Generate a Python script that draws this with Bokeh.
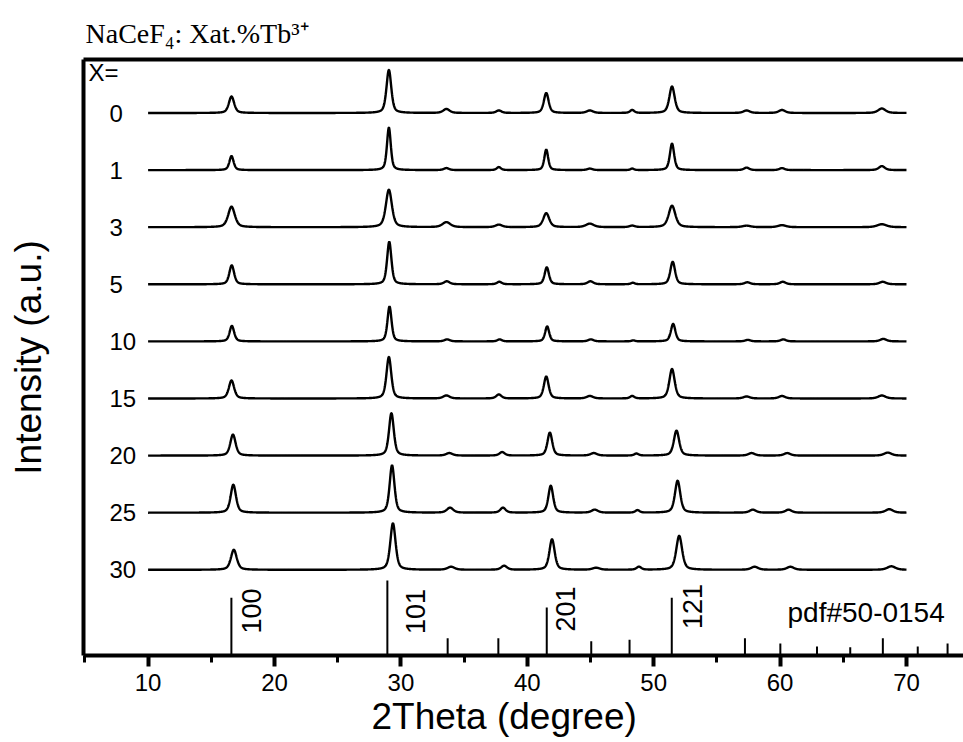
import numpy as np
from bokeh.plotting import figure
from bokeh.models import Range1d, FixedTicker, LinearAxis, Title, ColumnDataSource
from bokeh.embed import file_html
from bokeh.resources import INLINE
from bokeh.core.properties import value

# ---------------- data ----------------
SAMPLES = ["0", "1", "3", "5", "10", "15", "20", "25", "30"]   # X (at.% Tb3+)

# diffraction peaks of the x = 0 sample (2theta, degree) and their FWHM
PEAK_POS = [16.6, 29.05, 33.6, 37.75, 41.5, 44.95, 48.3, 51.45, 57.35, 60.15, 68.05]
PEAK_FWHM = [0.5, 0.45, 0.6, 0.5, 0.45, 0.6, 0.4, 0.5, 0.6, 0.6, 0.7]

# peak heights (a.u.) for each sample
H_0 = [16.5, 43.0, 4.0, 2.5, 20.0, 2.5, 3.0, 26.5, 2.5, 3.0, 4.5]
H_1 = [14.0, 42.5, 2.0, 3.0, 20.5, 1.5, 1.5, 26.5, 2.5, 2.0, 4.0]
H_3 = [20.5, 37.5, 5.0, 2.5, 14.0, 3.5, 1.5, 21.5, 1.5, 2.0, 3.0]
H_5 = [19.0, 42.5, 3.0, 2.5, 17.0, 3.0, 1.5, 22.5, 2.0, 2.5, 2.5]
H_10 = [15.5, 35.0, 2.0, 2.0, 15.0, 2.0, 1.0, 17.5, 1.5, 2.0, 2.5]
H_15 = [18.0, 41.5, 3.0, 4.0, 22.0, 2.5, 2.5, 29.5, 2.0, 2.5, 3.0]
H_20 = [21.0, 42.5, 2.5, 3.5, 23.0, 2.5, 2.0, 25.0, 2.5, 2.5, 3.0]
H_25 = [28.0, 47.5, 5.0, 5.0, 27.0, 3.0, 2.5, 32.0, 3.0, 3.0, 3.5]
H_30 = [20.0, 46.5, 3.0, 4.0, 30.5, 2.0, 3.0, 34.0, 3.0, 3.0, 3.5]
HEIGHTS = [H_0, H_1, H_3, H_5, H_10, H_15, H_20, H_25, H_30]

# peak shift of each sample (degree, at 2theta ~ 29) and width factor
PEAK_SHIFT = [0.0, 0.0, 0.0, 0.03, 0.05, 0.0, 0.2, 0.25, 0.32]
WIDTH_FACTOR = [1.0, 0.8, 1.25, 0.9, 0.85, 1.0, 1.0, 1.0, 1.1]

# standard card pdf#50-0154
PDF_POS = [16.59, 28.93, 33.70, 37.71, 41.54, 45.06, 48.09, 51.43,
           57.22, 60.02, 62.92, 65.55, 68.13, 70.89, 73.25]
PDF_INT = [77, 100, 23, 23, 64, 19, 21, 77, 23, 16, 12, 11, 23, 12, 16]
HKL_TEXT = ["100", "101", "201", "121"]
HKL_POS = [16.59, 28.93, 41.54, 51.43]

XTICKS = [10, 20, 30, 40, 50, 60, 70]
XMINOR = [5, 15, 25, 35, 45, 55, 65]

# ---------------- layout constants ----------------
X0, PXD = 4.89, 12.64          # left data value, px per degree
LEFT_PX, TOP_PX = 83, 59
FRAME_W, FRAME_H = 880, 596
BOTTOM_PX = TOP_PX + FRAME_H
STACK_BASE, STACK_STEP = 85.7, 57.1
STICK_SCALE = 0.75
SANS = "Liberation Sans"
SERIF = "Liberation Serif"
TXT_SHIFT = 10                 # baseline correction of glyph texts (px)


def px2x(px):
    return X0 + (px - LEFT_PX) / PXD


def py2y(py):
    return BOTTOM_PX - py


p = figure(width=963, height=742,
           x_range=Range1d(X0, X0 + FRAME_W / PXD), y_range=Range1d(0, FRAME_H),
           output_backend="svg", toolbar_location=None,
           min_border_left=LEFT_PX, min_border_right=0, min_border_top=TOP_PX,
           min_border_bottom=742 - BOTTOM_PX)
p.outline_line_color = None
p.xgrid.visible = False
p.ygrid.visible = False
p.background_fill_color = "white"
p.border_fill_color = "white"

# heading
p.title.text = "NaCeF\u2084: Xat.%Tb\u00b3\u207a"
p.title.text_font = SERIF
p.title.text_font_size = "28px"
p.title.text_font_style = "normal"
p.title.text_color = "black"
p.title.align = "left"
p.title.offset = 2
p.title.standoff = 22

# bottom axis
xa = p.xaxis[0]
xa.ticker = FixedTicker(ticks=XTICKS, minor_ticks=XMINOR)
xa.axis_line_width = 4
xa.axis_line_color = "black"
xa.major_tick_line_width = 4
xa.minor_tick_line_width = 3
xa.major_tick_in = 0
xa.major_tick_out = 11
xa.minor_tick_in = 0
xa.minor_tick_out = 7
xa.major_label_text_font = SANS
xa.major_label_text_font_size = "24px"
xa.major_label_text_color = "black"
xa.major_label_standoff = 7

# x title, left aligned as in the picture
p.add_layout(Title(text="2Theta (degree)", align="left", offset=288,
                   vertical_align="top", standoff=5, text_font=SANS,
                   text_font_size="37px", text_font_style="normal",
                   text_color="black"), "below")

# left axis (no ticks) with the y title
ya = p.yaxis[0]
ya.ticker = FixedTicker(ticks=[])
ya.axis_line_width = 4
ya.axis_line_color = "black"
ya.major_tick_out = 0
ya.minor_tick_out = 0
ya.major_tick_line_color = None
ya.minor_tick_line_color = None
ya.major_label_standoff = 0
ya.major_label_text_font_size = "0px"
ya.axis_label = "Intensity (a.u.)"
ya.axis_label_text_font = SANS
ya.axis_label_text_font_size = "37px"
ya.axis_label_text_font_style = "normal"
ya.axis_label_text_color = "black"
ya.axis_label_standoff = 35

# top frame line
top = LinearAxis(ticker=FixedTicker(ticks=[]), axis_line_width=4, axis_line_color="black",
                 major_tick_out=0, minor_tick_out=0, major_label_standoff=0,
                 major_tick_line_color=None, minor_tick_line_color=None,
                 major_label_text_font_size="0px")
p.add_layout(top, "above")

# ---------------- traces ----------------
x = np.arange(10.0, 70.0001, 0.02)
for k, (lab, hs) in enumerate(zip(SAMPLES, HEIGHTS)):
    off = STACK_BASE + STACK_STEP * (len(SAMPLES) - 1 - k)
    y = np.full_like(x, off)
    for pos, fw, h in zip(PEAK_POS, PEAK_FWHM, hs):
        c = pos + PEAK_SHIFT[k] * pos / 29.0
        w = fw * WIDTH_FACTOR[k]
        u = (x - c) / w
        y += h * (0.5 * np.exp(-4 * np.log(2) * u * u) + 0.5 / (1 + 4 * u * u))
    p.line(x, y, line_color="black", line_width=2.4)

# sample labels
lab_src = ColumnDataSource(dict(
    x=[px2x(109)] * len(SAMPLES),
    y=[STACK_BASE + STACK_STEP * (len(SAMPLES) - 1 - k) - 10 + TXT_SHIFT
       for k in range(len(SAMPLES))],
    t=SAMPLES))
p.text(x="x", y="y", text="t", source=lab_src, text_font=value(SANS),
       text_font_size="24px", text_align="left", text_baseline="alphabetic",
       text_color="black")
p.text(x=[px2x(88)], y=[py2y(82) + TXT_SHIFT], text=["X="], text_font=value(SANS),
       text_font_size="24px", text_align="left", text_baseline="alphabetic",
       text_color="black")

# ---------------- standard sticks ----------------
p.segment(x0=PDF_POS, y0=[0] * len(PDF_POS), x1=PDF_POS,
          y1=[v * STICK_SCALE for v in PDF_INT], line_color="black", line_width=2)
HKL_DX = [31 - 11, 39 - 11, 30 - 11, 32 - 11]
HKL_Y = [py2y(610.5), py2y(611), py2y(608.5), py2y(606)]
hkl_src = ColumnDataSource(dict(x=HKL_POS, y=HKL_Y, t=HKL_TEXT, dx=HKL_DX))
p.text(x="x", y="y", text="t", x_offset="dx", source=hkl_src, angle=np.pi / 2,
       text_font=value(SANS), text_font_size="27px", text_align="center",
       text_baseline="alphabetic", text_color="black")
p.text(x=[px2x(787)], y=[py2y(623) + TXT_SHIFT + 1], text=["pdf#50-0154"],
       text_font=value(SANS), text_font_size="28px", text_align="left",
       text_baseline="alphabetic", text_color="black")

open("out.html", "w").write(file_html(p, INLINE))
